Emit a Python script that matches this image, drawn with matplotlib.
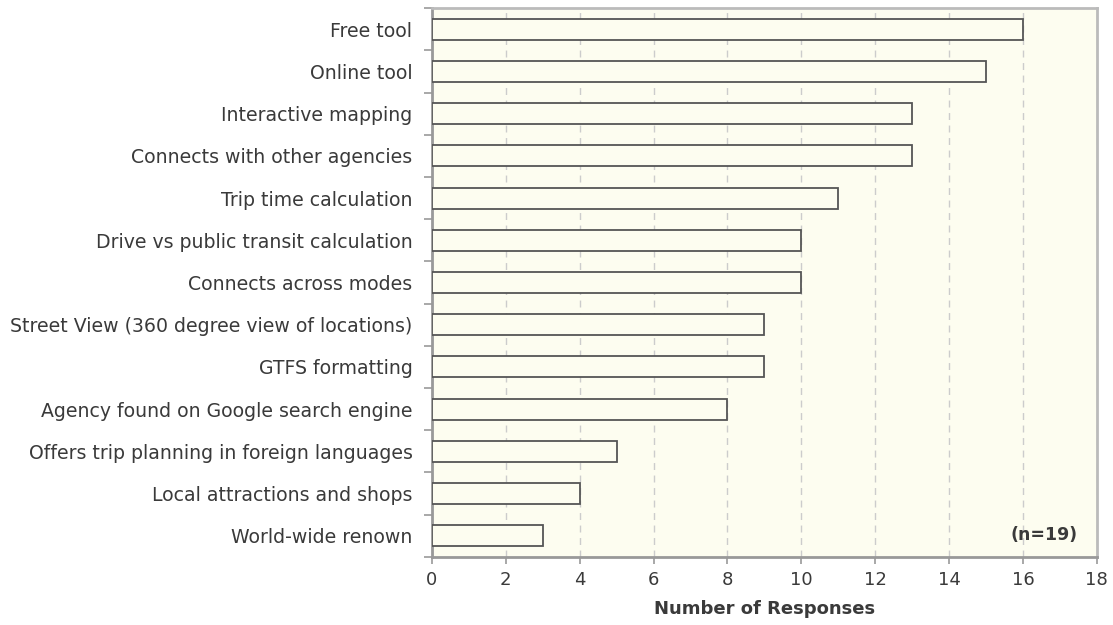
import numpy as np
import matplotlib.pyplot as plt

features = [
    "Free tool",
    "Online tool",
    "Interactive mapping",
    "Connects with other agencies",
    "Trip time calculation",
    "Drive vs public transit calculation",
    "Connects across modes",
    "Street View (360 degree view of locations)",
    "GTFS formatting",
    "Agency found on Google search engine",
    "Offers trip planning in foreign languages",
    "Local attractions and shops",
    "World-wide renown",
]
responses = [16, 15, 13, 13, 11, 10, 10, 9, 9, 8, 5, 4, 3]
x_ticks = [0, 2, 4, 6, 8, 10, 12, 14, 16, 18]

text_col = '#3a3a3a'
plt.rcParams['font.family'] = ['DejaVu Sans']

fig = plt.figure(figsize=(11.13, 6.25), dpi=100)
ax = fig.add_axes([0.388, 0.109, 0.5975, 0.878])
ax.set_facecolor('#fdfdf0')

y = np.arange(len(features))
ax.barh(y, responses, height=0.5, color='#fdfdf0', edgecolor='#555555',
        linewidth=1.3, zorder=3)

ax.set_ylim(len(features) - 0.5, -0.5)
ax.set_xlim(0, 18)
ax.set_xticks(x_ticks)
ax.set_xticklabels([str(t) for t in x_ticks], fontsize=13, color=text_col)

# labels centred on bars, ticks on category boundaries
ax.set_yticks(y)
ax.set_yticklabels(features, fontsize=13.6, color=text_col)
ax.tick_params(axis='y', which='major', length=0, pad=14)
ax.set_yticks(np.arange(len(features) + 1) - 0.5, minor=True)
ax.tick_params(axis='y', which='minor', length=6, width=1.2, color='#999999')
ax.tick_params(axis='x', length=5, width=1.2, color='#999999', pad=5)

ax.grid(axis='x', linestyle=(0, (5, 4)), color='#cccccc', linewidth=1, zorder=0)

for side in ['left', 'bottom']:
    ax.spines[side].set_color('#999999')
    ax.spines[side].set_linewidth(2)
for side in ['top', 'right']:
    ax.spines[side].set_color('#bbbbbb')
    ax.spines[side].set_linewidth(2)

ax.set_xlabel('Number of Responses', fontsize=13, fontweight='bold',
              color=text_col, labelpad=8)
ax.text(0.971, 0.04, '(n=19)', transform=ax.transAxes, ha='right', va='center',
        fontsize=12.5, fontweight='bold', color=text_col)

fig.savefig('out.png', dpi=100)
